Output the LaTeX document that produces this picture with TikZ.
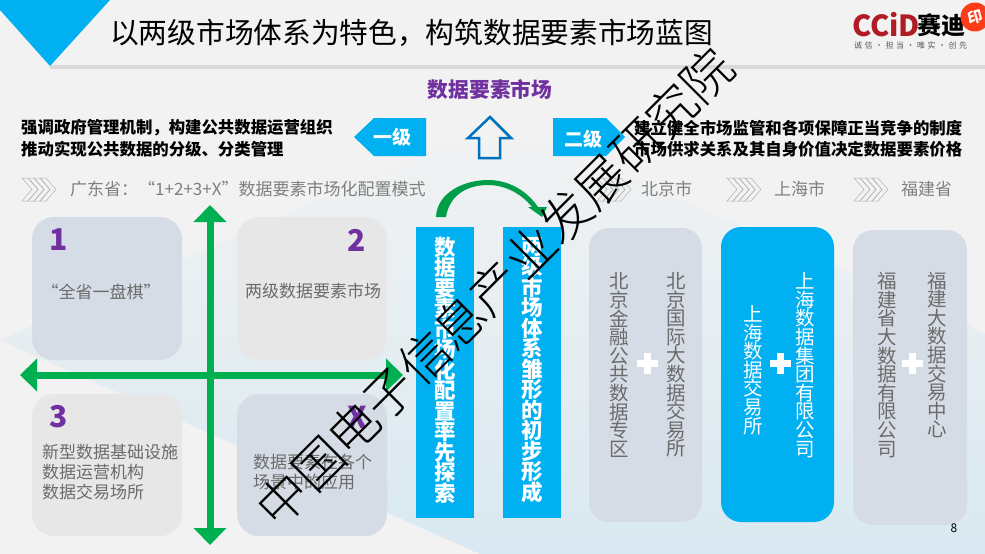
\documentclass[tikz,border=0pt]{standalone}
\usepackage{fontspec}
\setmainfont{Noto Sans CJK SC}
\newfontfamily\wmfont{Noto Sans CJK SC Light}
\usetikzlibrary{arrows.meta}
\definecolor{bgg}{HTML}{F2F2F2}
\definecolor{bandm}{HTML}{E6E8EE}
\definecolor{bandb}{HTML}{D9E9F1}
\definecolor{cyanb}{HTML}{00B0F0}
\definecolor{greenb}{HTML}{00B050}
\definecolor{purp}{HTML}{7030A0}
\definecolor{slatec}{HTML}{D6DCE5}
\definecolor{greyc}{HTML}{E7E7E7}
\definecolor{greyt}{HTML}{6B6B6B}
\definecolor{rowt}{HTML}{7F7F7F}
\definecolor{arrowb}{HTML}{0070C0}
\definecolor{logor}{HTML}{B01C24}
\makeatletter
\newcommand\vtext[2]{\vbox{\baselineskip=#1\lineskiplimit=-100pt\relax\@tfor\vch@r:=#2\do{\hbox to 1em{\hss\vch@r\hss}}}}
\makeatother
\newcommand\fs[1]{\fontsize{#1}{#1}\selectfont}
\newcommand\chevs[1]{\foreach \i in {0,1,2,3}{\draw[chevline] ({#1+\i*6},178) -- ++(6,0) -- ++(10,11.5) -- ++(-10,11.5) -- ++(-6,0) -- ++(10,-11.5) -- cycle;}}
\newcommand\plusmark[2]{\fill[white] ({#1-10.5},{#2-3.5}) rectangle ({#1+10.5},{#2+3.5}); \fill[white] ({#1-3.5},{#2-10.5}) rectangle ({#1+3.5},{#2+10.5});}
\tikzset{
  x=1pt,y=-1pt,
  card/.style={draw=none,fill=#1,rounded corners=22pt,inner sep=0pt},
  bar/.style={draw=none,fill=cyanb,inner sep=0pt,minimum width=58pt,minimum height=291pt},
  vert/.style={inner sep=0pt,text=greyt,font=\fs{19.5}},
  vertw/.style={inner sep=0pt,text=white,font=\fs{19.5}},
  strong/.style={inner sep=0pt,anchor=west,text=black,font=\fs{16.4}\bfseries},
  rowlabel/.style={inner sep=0pt,anchor=west,text=rowt,font=\fs{17}},
  celltext/.style={inner sep=0pt,anchor=west,text=greyt,font=\fs{17}},
  num/.style={inner sep=0pt,text=purp,font=\fs{30}\bfseries},
  chevline/.style={draw=black!30,line width=.5pt,fill=none},
  axis/.style={draw=greenb,line width=7pt,{Triangle[length=17pt,width=32pt]}-{Triangle[length=17pt,width=32pt]}},
}
\begin{document}
\begin{tikzpicture}
\useasboundingbox (0,0) rectangle (985,554);
\fill[bgg] (0,0) rectangle (985,554);
% background band
\begin{scope}
\clip (0,340) -- (500,120) -- (985,333) -- (985,554) -- (480,554) -- cycle;
\shade[top color=bgg,middle color=bandm,bottom color=bandb] (0,120) rectangle (985,554);
\end{scope}
% header
\fill[black!15] (50,65) rectangle (985,69);
\fill[cyanb] (0,0) -- (110,0) -- (50,66) -- (0,10) -- cycle;
\node[inner sep=0pt,anchor=west,font=\fs{28.7}] (title) at (110,33) {以两级市场体系为特色，构筑数据要素市场蓝图};
% logo
\node[inner sep=0pt,anchor=west,text=logor,font=\fs{29}\bfseries] (logoa) at (852,25) {CCiD};
\node[inner sep=0pt,anchor=west,text=black,font=\fs{24}\bfseries] (logob) at (917,25) {赛迪};
\node[inner sep=0pt,anchor=west,text=black!65,font=\fs{8}] (logoc) at (854,45) {\hbox to 113pt{诚\hfil 信\hfil ·\hfil 担\hfil 当\hfil ·\hfil 唯\hfil 实\hfil ·\hfil 创\hfil 先}};
\node[circle,fill=red!70!orange!90,minimum size=29pt,inner sep=0pt,text=white,font=\fs{15}\bfseries,rotate=15] (stamp) at (975,17) {印};
% top centre
\node[inner sep=0pt,text=purp,font=\fs{20.7}\bfseries] (market) at (490,90) {数据要素市场};
\draw[arrowb,line width=2.5pt,fill=none,miter limit=10] (490,117) -- (511,138) -- (500,138) -- (500,158) -- (479,158) -- (479,138) -- (468,138) -- cycle;
\fill[cyanb] (354,137) -- (374,118) -- (426,118) -- (426,156) -- (374,156) -- cycle;
\node[inner sep=0pt,text=white,font=\fs{19}\bfseries] (lvla) at (392,137) {一级};
\fill[cyanb] (553,118) -- (606,118) -- (625,137) -- (606,156) -- (553,156) -- cycle;
\node[inner sep=0pt,text=white,font=\fs{19}\bfseries] (lvlb) at (583,139) {二级};
\node[strong] (la) at (21,128) {强调政府管理机制，构建公共数据运营组织};
\node[strong] (lb) at (21,149) {推动实现公共数据的分级、分类管理};
\node[strong] (ra) at (634,128) {建立健全市场监管和各项保障正当竞争的制度};
\node[strong] (rb) at (634,149) {市场供求关系及其自身价值决定数据要素价格};
% row
\chevs{22}\chevs{597}\chevs{727}\chevs{854}
\node[rowlabel] (gd) at (70,189) {广东省：“1+2+3+X”数据要素市场化配置模式};
\node[rowlabel,font=\fs{17}] (bj) at (641,189) {北京市};
\node[rowlabel] (sh) at (774,189) {上海市};
\node[rowlabel] (fj) at (901,189) {福建省};
% quadrants
\node[card=slatec,minimum width=150pt,minimum height=143pt] (q1) at (107,288.5) {};
\node[card=greyc,minimum width=150pt,minimum height=143pt] (q2) at (312,288.5) {};
\node[card=greyc,minimum width=150pt,minimum height=142pt] (q3) at (107,465) {};
\node[card=slatec,minimum width=150pt,minimum height=142pt] (q4) at (312,465) {};
\coordinate (vt) at (210,205); \coordinate (vb) at (210,545);
\coordinate (hl) at (20,375); \coordinate (hr) at (403,375);
\draw[axis] (vt) -- (vb);
\draw[axis] (hl) -- (hr);
\node[num] (n1) at (59,240) {1};
\node[num] (n2) at (357,240) {2};
\node[num] (n3) at (59,417) {3};
\node[num] (n4) at (357,417) {X};
\node[celltext,anchor=center] (t1) at (101,292) {“全省一盘棋”};
\node[celltext,anchor=center] (t2) at (313,291) {两级数据要素市场};
\node[celltext] (t3a) at (42,452) {新型数据基础设施};
\node[celltext] (t3b) at (42,472) {数据运营机构};
\node[celltext] (t3c) at (42,492) {数据交易场所};
\node[celltext] (t4a) at (253,462) {数据要素在各个};
\node[celltext] (t4b) at (253,482) {场景中的应用};
% curved arrow
\fill[greenb!90!black] (436,217) .. controls (437,192) and (465,180) .. (488,180) .. controls (510,180) and (528,192) .. (538,207) -- (547,207) -- (542,217) -- (528,207) -- (532,207) .. controls (520,192) and (503,185) .. (488,185) .. controls (465,185) and (449,197) .. (446,217) -- cycle;
% blue bars
\node[bar] (b1) at (445,372.5) {};
\node[bar] (b2) at (532,372.5) {};
\node[inner sep=0pt,text=white,font=\fs{21.5}\bfseries] (b1t) at (445,370) {\vtext{20.5pt}{数据要素市场化配置率先探索}};
\node[inner sep=0pt,text=white,font=\fs{21.5}\bfseries] (b2t) at (532,370) {\vtext{20.5pt}{两级市场体系雏形的初步形成}};
% city cards
\node[card=slatec,rounded corners=20pt,minimum width=113pt,minimum height=294pt] (c1) at (645.5,375) {};
\node[card=cyanb,rounded corners=20pt,minimum width=113pt,minimum height=295pt] (c2) at (777.5,374.5) {};
\node[card=slatec,rounded corners=20pt,minimum width=114pt,minimum height=295pt] (c3) at (910,377.5) {};
\node[vert] (c1a) at (619,365) {\vtext{18.6pt}{北京金融公共数据专区}};
\node[vert] (c1b) at (676,365) {\vtext{18.6pt}{北京国际大数据交易所}};
\plusmark{647.5}{363}
\node[vertw] (c2a) at (753,370) {\vtext{18.6pt}{上海数据交易所}};
\node[vertw] (c2b) at (805,365) {\vtext{18.6pt}{上海数据集团有限公司}};
\plusmark{780}{363}
\node[vert] (c3a) at (887,365) {\vtext{18.6pt}{福建省大数据有限公司}};
\node[vert] (c3b) at (937,355) {\vtext{18.6pt}{福建大数据交易中心}};
\plusmark{912}{363}
\node[inner sep=0pt,font=\fs{12}] (page) at (954,528) {8};
% watermark
\node[inner sep=0pt,rotate=45,text=black,font=\fs{50}\wmfont] (wm) at (495,287) {中国电子信息产业发展研究院};
\end{tikzpicture}
\end{document}
